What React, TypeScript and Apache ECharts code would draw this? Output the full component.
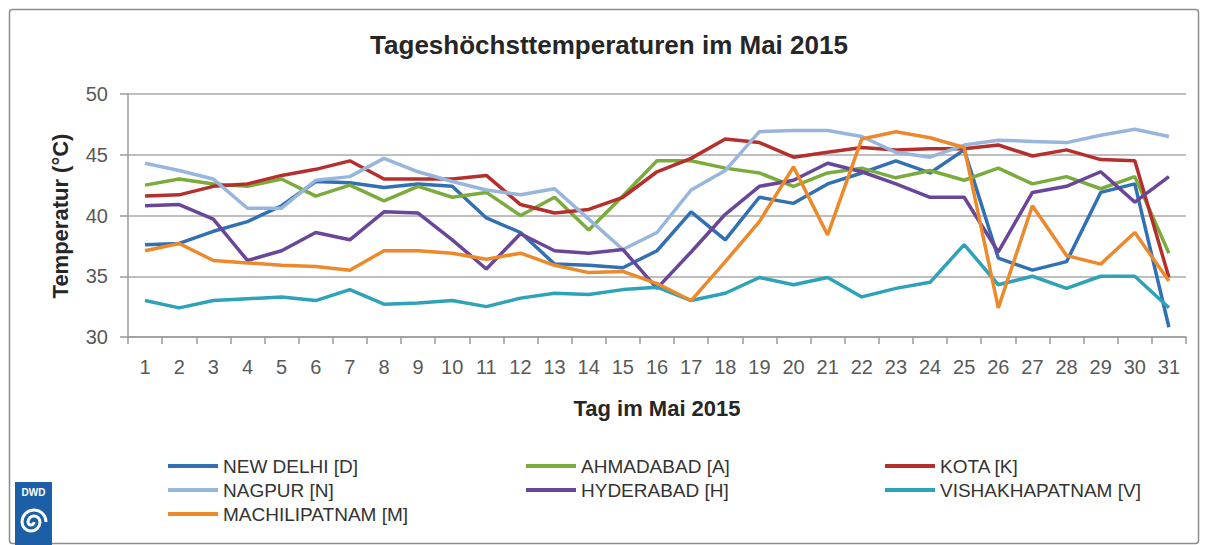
import React, { useEffect, useRef } from 'react';
import * as echarts from 'echarts';

const days = ['1','2','3','4','5','6','7','8','9','10','11','12','13','14','15','16','17','18','19','20','21','22','23','24','25','26','27','28','29','30','31'];

const newDelhi = [37.6,37.7,38.7,39.5,40.8,42.8,42.7,42.3,42.6,42.4,39.8,38.6,36.0,35.9,35.7,37.1,40.3,38.0,41.5,41.0,42.6,43.5,44.5,43.5,45.4,36.5,35.5,36.2,41.9,42.6,30.8];
const ahmadabad = [42.5,43.0,42.6,42.4,43.0,41.6,42.5,41.2,42.4,41.5,41.9,40.0,41.5,38.8,41.6,44.5,44.5,43.9,43.5,42.4,43.5,43.9,43.1,43.7,42.9,43.9,42.6,43.2,42.2,43.2,36.9];
const kota = [41.6,41.7,42.4,42.6,43.3,43.8,44.5,43.0,43.0,43.0,43.3,40.9,40.2,40.5,41.5,43.6,44.7,46.3,46.0,44.8,45.2,45.6,45.4,45.5,45.5,45.8,44.9,45.4,44.6,44.5,34.9];
const nagpur = [44.3,43.7,43.0,40.6,40.6,42.9,43.2,44.7,43.6,42.8,42.1,41.7,42.2,39.7,37.2,38.6,42.1,43.7,46.9,47.0,47.0,46.5,45.2,44.8,45.8,46.2,46.1,46.0,46.6,47.1,46.5];
const hyderabad = [40.8,40.9,39.7,36.3,37.1,38.6,38.0,40.3,40.2,38.0,35.6,38.5,37.1,36.9,37.2,34.0,37.0,40.1,42.4,42.9,44.3,43.6,42.6,41.5,41.5,37.0,41.9,42.4,43.6,41.1,43.2];
const vishakhapatnam = [33.0,32.4,33.0,33.15,33.3,33.0,33.9,32.7,32.8,33.0,32.5,33.2,33.6,33.5,33.9,34.1,33.0,33.6,34.9,34.3,34.9,33.3,34.0,34.5,37.6,34.3,35.0,34.0,35.0,35.0,32.4];
const machilipatnam = [37.1,37.7,36.3,36.1,35.9,35.8,35.5,37.1,37.1,36.9,36.4,36.9,35.9,35.3,35.4,34.4,33.0,36.2,39.5,44.0,38.4,46.3,46.9,46.4,45.6,32.4,40.8,36.7,36.0,38.6,34.6];

const seriesNames = ['NEW DELHI [D]','AHMADABAD [A]','KOTA [K]','NAGPUR [N]','HYDERABAD [H]','VISHAKHAPATNAM [V]','MACHILIPATNAM [M]'];
const seriesData = [newDelhi, ahmadabad, kota, nagpur, hyderabad, vishakhapatnam, machilipatnam];
const seriesColors = ['#3170b2','#7aab3c','#b5302d','#98b6dc','#6a4699','#2ea2b8','#ec8a2b'];

const yTicks = [30, 35, 40, 45, 50];

const titleText = 'Tageshöchsttemperaturen im Mai 2015';
const yName = 'Temperatur (°C)';
const xName = 'Tag im Mai 2015';

const SPIRAL = 'M 12 0 A 12 12 0 0 0 -12 0 A 9 9 0 0 0 6 0 A 6 6 0 0 0 -6 0 A 3 3 0 0 0 0 0';
try {
  echarts.graphic.registerShape('logo', (echarts.graphic as any).extendPath(SPIRAL, {}));
} catch (e) {}

const FONT = '"Liberation Sans", Arial, sans-serif';
const NARROW = '"Liberation Sans Narrow", "Liberation Sans", Arial, sans-serif';

export default function App() {
  const ref = useRef<HTMLDivElement>(null);
  useEffect(() => {
    const chart = echarts.init(ref.current!, null, { renderer: 'svg' });
    const legendCols = [[0, 3, 6], [1, 4], [2, 5]];
    const legendLefts = [168, 526, 885];
    const option: any = {
      animation: false,
      backgroundColor: '#ffffff',
      color: seriesColors,
      grid: { left: 128, right: 22, top: 94, bottom: 208, containLabel: false },
      legend: legendCols.map((col, i) => ({
        orient: 'vertical',
        left: legendLefts[i],
        top: 454,
        padding: 0,
        itemGap: 0,
        itemWidth: 50,
        itemHeight: 4,
        icon: 'rect',
        data: col.map((k) => seriesNames[k]),
        textStyle: { fontFamily: NARROW, fontSize: 19, color: '#333333', lineHeight: 24, padding: [0, 0, 0, 0] },
      })),
      xAxis: {
        type: 'category',
        data: days,
        boundaryGap: true,
        axisLine: { show: true, lineStyle: { color: '#9a9a9a', width: 1.5 } },
        axisTick: { show: true, alignWithLabel: false, length: 7, lineStyle: { color: '#9a9a9a', width: 1.5 } },
        axisLabel: { interval: 0, margin: 20, fontFamily: FONT, fontSize: 20, color: '#595959' },
        splitLine: { show: false },
      },
      yAxis: {
        type: 'value',
        min: 30,
        max: 50,
        interval: 5,
        axisLine: { show: true, lineStyle: { color: '#9a9a9a', width: 1.5 } },
        axisTick: { show: true, length: 8, lineStyle: { color: '#9a9a9a', width: 1.5 } },
        axisLabel: { margin: 20, fontFamily: FONT, fontSize: 20, color: '#595959', formatter: (v: number) => (yTicks.includes(v) ? String(v) : '') },
        splitLine: { show: true, lineStyle: { color: '#bfbfbf', width: 1.8 } },
      },
      series: seriesData.map((d, i) => ({
        name: seriesNames[i],
        type: 'line',
        data: d,
        showSymbol: false,
        symbol: 'none',
        smooth: false,
        lineStyle: { width: 3.5, color: seriesColors[i] },
        itemStyle: { color: seriesColors[i] },
        emphasis: { disabled: true },
      })),
      graphic: [
        {
          type: 'rect',
          shape: { x: 9.5, y: 9.5, width: 1189, height: 534, r: 3 },
          style: { fill: 'none', stroke: '#8c8c8c', lineWidth: 1.5 },
          silent: true,
          z: -1,
        },
        {
          type: 'text',
          x: 609,
          y: 45,
          style: { text: titleText, fontFamily: FONT, fontSize: 26, fontWeight: 'bold', fill: '#262626', align: 'center', verticalAlign: 'middle' },
        },
        {
          type: 'text',
          x: 60,
          y: 216,
          rotation: Math.PI / 2,
          style: { text: yName, fontFamily: FONT, fontSize: 22, fontWeight: 'bold', fill: '#262626', align: 'center', verticalAlign: 'middle' },
        },
        {
          type: 'text',
          x: 657,
          y: 408,
          style: { text: xName, fontFamily: FONT, fontSize: 22, fontWeight: 'bold', fill: '#262626', align: 'center', verticalAlign: 'middle' },
        },
        {
          type: 'rect',
          shape: { x: 15, y: 482, width: 37, height: 63 },
          style: { fill: '#1c5fa6' },
        },
        {
          type: 'text',
          x: 33.5,
          y: 492,
          style: { text: 'DWD', fontFamily: FONT, fontSize: 10, fontWeight: 'bold', fill: '#ffffff', align: 'center', verticalAlign: 'middle' },
        },
        {
          type: 'logo',
          x: 34,
          y: 522,
          scaleX: 1,
          scaleY: 1,
          style: { fill: 'none', stroke: '#ffffff', lineWidth: 3 },
        },
      ],
    };
    chart.setOption(option);
    return () => chart.dispose();
  }, []);
  return <div ref={ref} style={{ position: 'fixed', left: 0, top: 0, width: 1208, height: 545, background: '#fff' }} />;
}
